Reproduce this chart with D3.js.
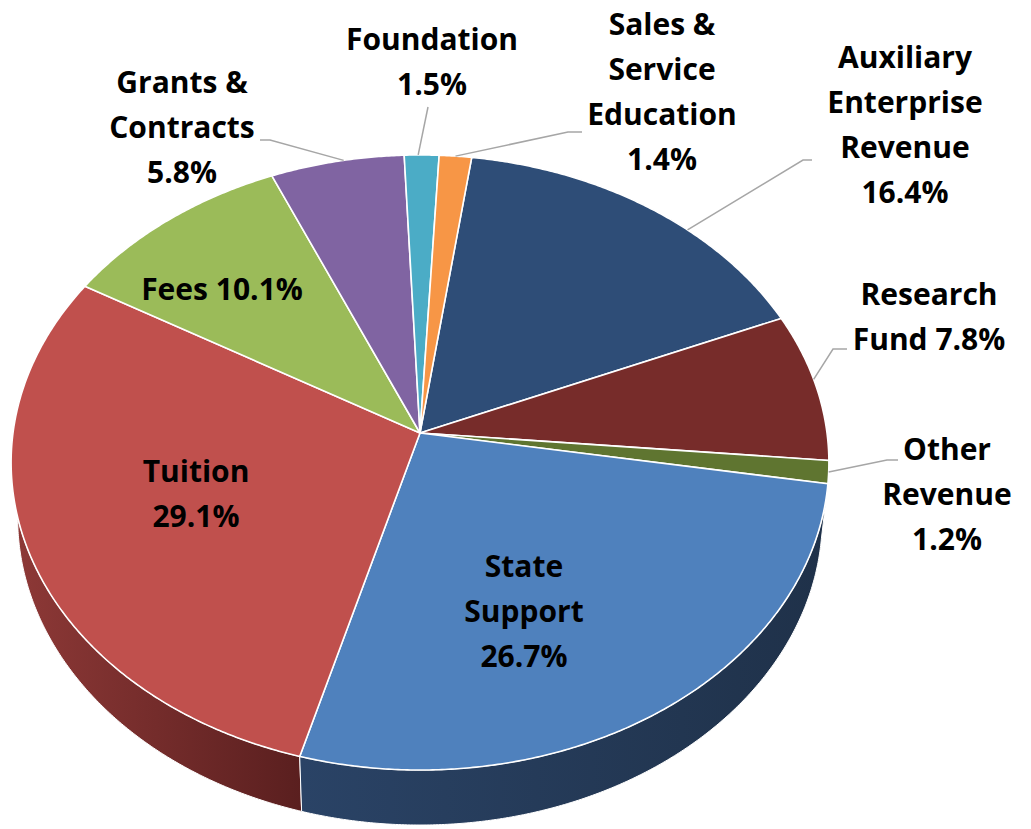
<!DOCTYPE html>
<html>
<head>
<meta charset="utf-8">
<script src="https://cdn.jsdelivr.net/npm/d3@7"></script>
<style>
  body { margin: 0; background: #fff; }
  svg { display: block; }
</style>
</head>
<body>
<svg id="chart"></svg>
<script>
// revenue categories, in slice order (clockwise from the top)
const categories = ["Auxiliary Enterprise Revenue", "Research Fund", "Other Revenue", "State Support",
  "Tuition", "Fees", "Grants & Contracts", "Foundation", "Sales & Service Education"];
const shares = [16.4, 7.8, 1.2, 26.7, 29.1, 10.1, 5.8, 1.5, 1.4];
const topColors = ["#2e4d77", "#772c2a", "#5f7530", "#4f81bd", "#c0504d", "#9bbb59", "#8064a2", "#4bacc6", "#f79646"];
const sideColors = [["#25405f", "#1a2d47"], ["#5e2322", "#3f1716"], ["#4c5e26", "#36431a"], ["#2a4366", "#1f3149"],
  ["#8e3937", "#5a1f1f"], ["#78924a", "#5a6e36"], ["#634e80", "#4a3b60"], ["#3a8ba0", "#2b6a7a"], ["#c8773a", "#96592b"]];

const width = 1031;
const height = 829;

// geometry of the tilted pie (perspective projection of the unit disc)
const cx = 420, cy = 433;
const R = 407, K = 304.7, P = 0.0959;
const depth = 55;
const bottomShrink = 0.984; // bottom rim is a bit farther away

function proj(a, r = 1) {
  const u = Math.sin(a) * r, v = -Math.cos(a) * r;
  const s = 1 / (1 - P * v);
  return [cx + R * u * s, cy + K * v * s];
}

const pie = d3.pie()
    .sort(null)
    .value(d => d)
    .startAngle(8 * Math.PI / 180)
    .endAngle(8 * Math.PI / 180 + 2 * Math.PI);
const arcs = pie(shares);

function rim(d) {
  const n = Math.max(4, Math.ceil((d.endAngle - d.startAngle) / (0.4 * Math.PI / 180)));
  return d3.range(n + 1).map(i => proj(d.startAngle + (d.endAngle - d.startAngle) * i / n));
}

const line = d3.line();

const svg = d3.select("#chart")
    .attr("width", width)
    .attr("height", height)
    .attr("viewBox", [0, 0, width, height]);

const defs = svg.append("defs");
arcs.forEach((d, i) => {
  const g = defs.append("linearGradient")
      .attr("id", "side" + i)
      .attr("x1", 0).attr("x2", 1).attr("y1", 0).attr("y2", 0);
  g.append("stop").attr("offset", "0%").attr("stop-color", sideColors[i][0]);
  g.append("stop").attr("offset", "100%").attr("stop-color", sideColors[i][1]);
});

// side walls first, back to front
const walls = arcs.map((d, i) => {
  const top = rim(d);
  const bottom = top.map(p => [cx + (p[0] - cx) * bottomShrink, p[1] + depth]).reverse();
  const mid = (d.startAngle + d.endAngle) / 2;
  return {i, pts: top.concat(bottom), z: -Math.cos(mid)};
}).sort((a, b) => a.z - b.z);

svg.append("g")
  .selectAll("path")
  .data(walls)
  .join("path")
    .attr("d", w => line(w.pts) + "Z")
    .attr("fill", w => `url(#side${w.i})`)
    .attr("stroke", "#fff")
    .attr("stroke-width", 1)
    .attr("stroke-linejoin", "round");

// top faces
svg.append("g")
  .selectAll("path")
  .data(arcs)
  .join("path")
    .attr("d", d => line([[cx, cy]].concat(rim(d))) + "Z")
    .attr("fill", (d, i) => topColors[i])
    .attr("stroke", "#fff")
    .attr("stroke-width", 1.6)
    .attr("stroke-linejoin", "round");

// labels: lines of text, centre x, first baseline, optional leader line
const fmt = v => d3.format(".1f")(v) + "%";
const labelLayout = [
  {lines: ["Auxiliary", "Enterprise", "Revenue", null], x: 905, y: 68, leader: [[812, 160], [803, 160]], t: 0.62},
  {lines: ["Research", "Fund " + "%v"], x: 929, y: 305, leader: [[847, 349], [833, 349]], t: 0.45},
  {lines: ["Other", "Revenue", null], x: 947, y: 460, leader: [[898, 460], [887, 460]], t: 0.5},
  {lines: ["State", "Support", null], x: 524, y: 577},
  {lines: ["Tuition", null], x: 196, y: 482},
  {lines: ["Fees " + "%v"], x: 222, y: 300},
  {lines: ["Grants &", "Contracts", null], x: 182, y: 93, leader: [[260, 140], [270, 140]], t: 0.55},
  {lines: ["Foundation", null], x: 432, y: 50, leader: [[428, 107]], t: 0.4},
  {lines: ["Sales &", "Service", "Education", null], x: 662, y: 35, leader: [[582, 132], [568, 132]], t: 0.5}
];

const leaders = svg.append("g")
    .attr("fill", "none")
    .attr("stroke", "#a6a6a6")
    .attr("stroke-width", 1.5);
arcs.forEach((d, i) => {
  const L = labelLayout[i];
  if (!L.leader) return;
  const a = d.startAngle + (d.endAngle - d.startAngle) * L.t;
  leaders.append("path").attr("d", line(L.leader.concat([proj(a)])));
});

const labels = svg.append("g")
    .attr("font-family", "'Open Sans', 'Noto Sans', sans-serif")
    .attr("font-weight", "bold")
    .attr("font-size", 30)
    .attr("fill", "#000")
    .attr("text-anchor", "middle");
arcs.forEach((d, i) => {
  const L = labelLayout[i];
  const t = labels.append("text").attr("x", L.x).attr("y", L.y);
  L.lines.forEach((s, k) => {
    const txt = s === null ? fmt(shares[i]) : s.replace("%v", fmt(shares[i]));
    t.append("tspan").attr("x", L.x).attr("dy", k === 0 ? 0 : 45).text(txt);
  });
});
</script>
</body>
</html>
